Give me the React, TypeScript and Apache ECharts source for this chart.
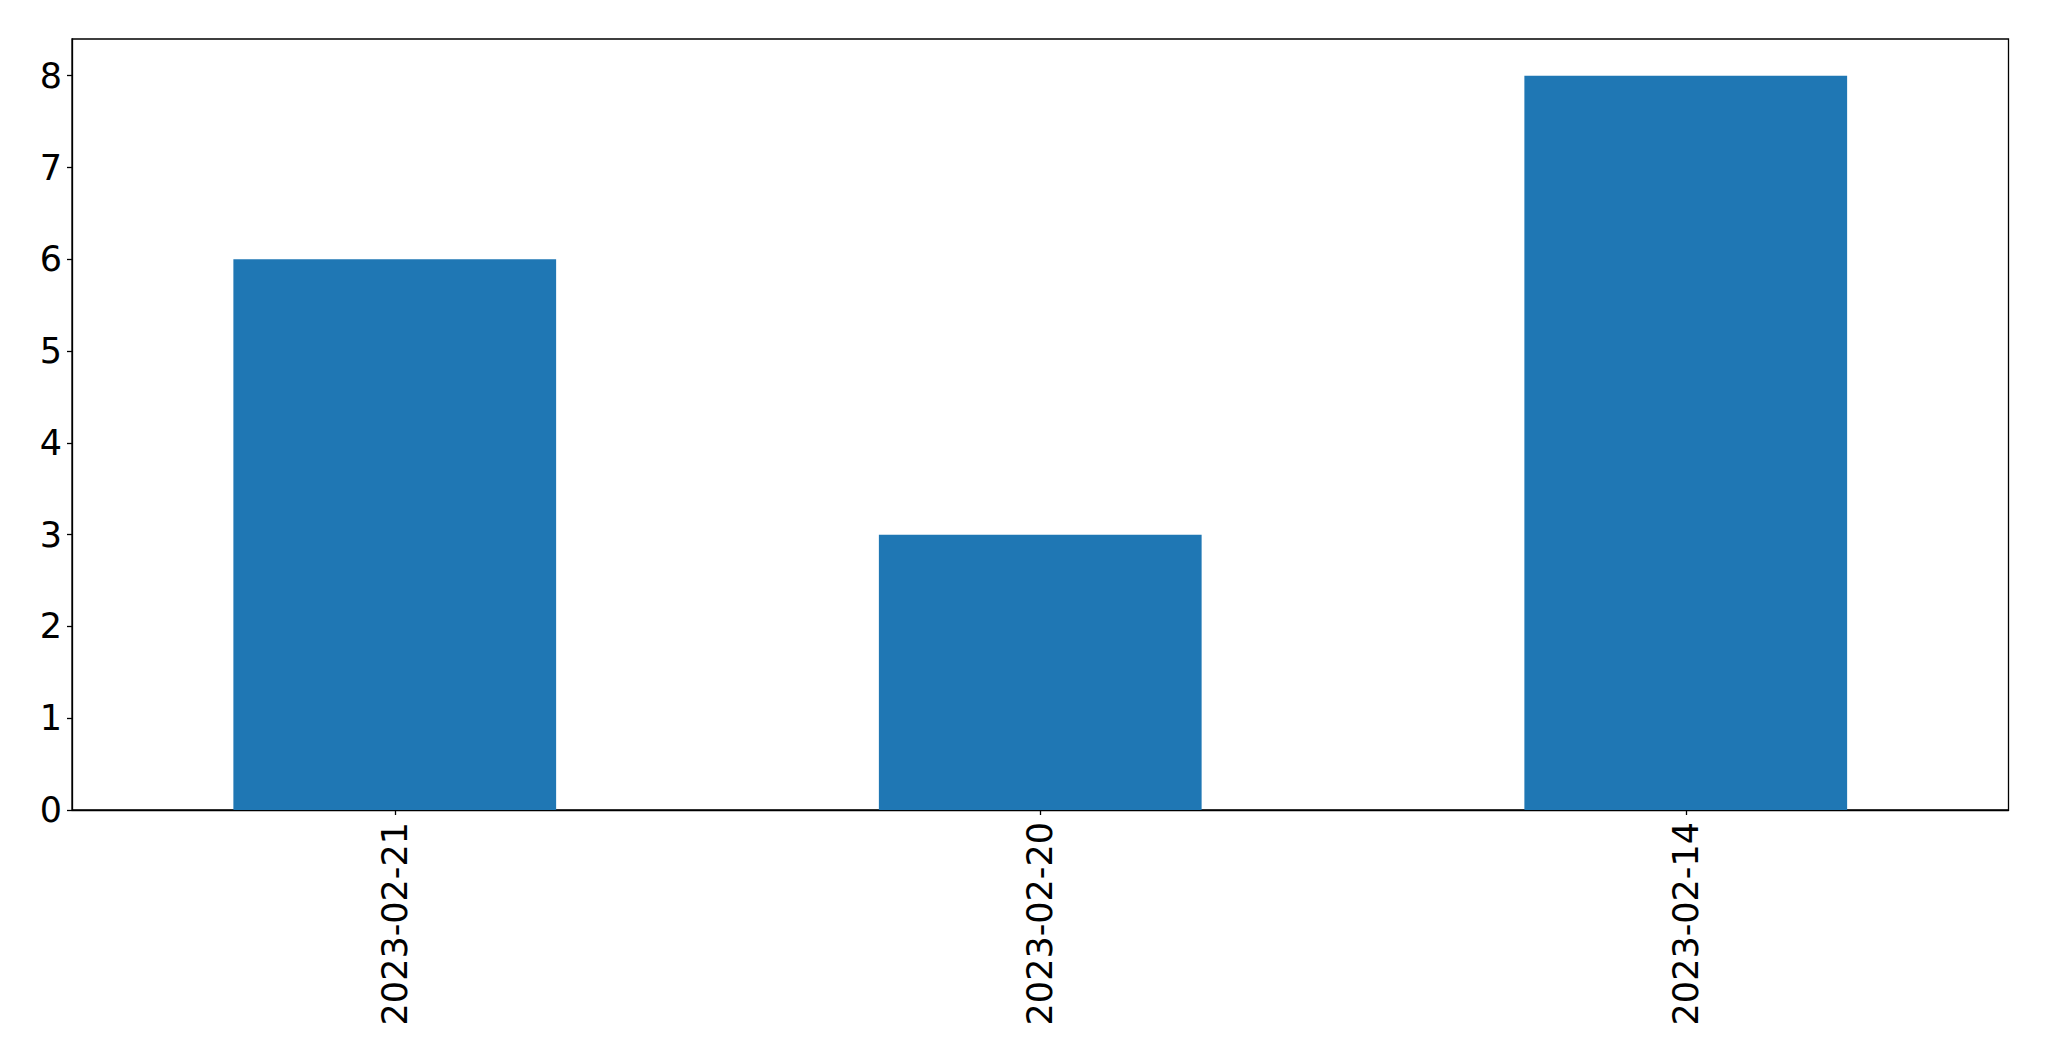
import React, { useEffect, useRef } from "react";
import * as echarts from "echarts";

const categories = ["2023-02-21", "2023-02-20", "2023-02-14"];
const counts = [6, 3, 8];
const yTicks = [0, 1, 2, 3, 4, 5, 6, 7, 8];
const yMax = 8.4;

export default function App() {
  const ref = useRef<HTMLDivElement>(null);
  useEffect(() => {
    if (!ref.current) return;
    const chart = echarts.init(ref.current, null, { renderer: "svg" });
    const font = "DejaVu Sans";
    chart.setOption({
      animation: false,
      backgroundColor: "#ffffff",
      grid: {
        left: 72,
        top: 39,
        right: 40.5,
        bottom: 251,
        show: true,
        borderColor: "#000000",
        borderWidth: 1.3,
        containLabel: false,
      },
      xAxis: {
        type: "category",
        data: categories,
        boundaryGap: true,
        axisLine: { show: true, lineStyle: { color: "#000000", width: 1.3 } },
        axisTick: {
          show: true,
          alignWithLabel: true,
          length: 5,
          lineStyle: { color: "#000000", width: 1.3 },
        },
        axisLabel: {
          rotate: 90,
          margin: 12,
          fontFamily: font,
          fontSize: 35,
          color: "#000000",
        },
        splitLine: { show: false },
      },
      yAxis: {
        type: "value",
        min: 0,
        max: yMax,
        axisLine: { show: true, lineStyle: { color: "#000000", width: 1.3 } },
        axisTick: {
          show: true,
          length: 5,
          lineStyle: { color: "#000000", width: 1.3 },
          customValues: yTicks,
        },
        axisLabel: {
          margin: 10,
          fontFamily: font,
          fontSize: 35,
          color: "#000000",
          customValues: yTicks,
        },
        splitLine: { show: false },
      },
      series: [
        {
          type: "bar",
          data: counts,
          barWidth: "50%",
          itemStyle: { color: "#1f77b4" },
        },
      ],
    });
    return () => chart.dispose();
  }, []);
  return (
    <div
      ref={ref}
      style={{ position: "fixed", left: 0, top: 0, width: 2049, height: 1061 }}
    />
  );
}
